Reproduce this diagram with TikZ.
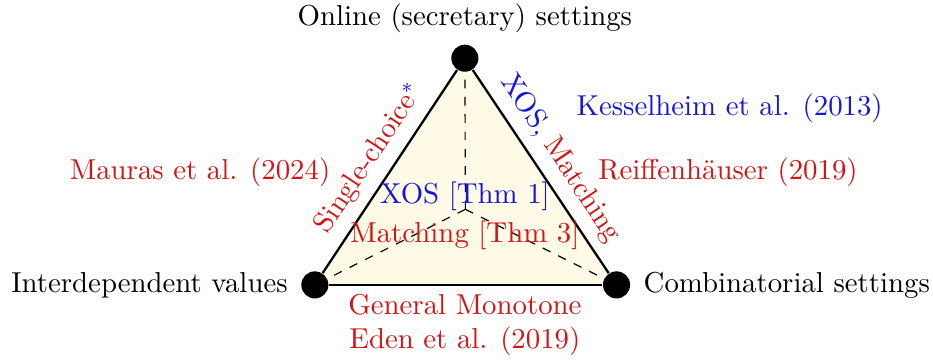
\documentclass[tikz,border=0pt]{standalone}
\usepackage{tikz}
\usetikzlibrary{positioning,backgrounds}
\usepackage{xcolor}
\definecolor{ptred}{RGB}{210,20,20}
\definecolor{ptblue}{RGB}{20,20,225}
\definecolor{ptfill}{RGB}{255,251,231}
\tikzstyle{vertex} = [circle,fill=black,inner sep=0pt,minimum size=9.4pt]
\tikzstyle{edge} = [thick,black]

\begin{document}
\begin{tikzpicture}
\useasboundingbox (0,0) rectangle (11.38,4.39);
% Corners
\node[vertex] (top) at (5.67,3.68) {};
\node[vertex] (left) at (3.84,0.915) {};
\node[vertex] (right) at (7.52,0.915) {};
\coordinate (ctr) at (barycentric cs:top=1,left=1,right=1);

% Corner labels
\node[above=0.5pt of top] (online) {Online (secretary) settings};
\node[left=1pt of left] (interdep) {Interdependent values};
\node[right=1pt of right] (combin) {Combinatorial settings};

% Triangle
\begin{scope}[on background layer]
\fill[ptfill] (top.center) -- (left.center) -- (right.center) -- cycle;
\draw[dashed] (ctr) -- (top.center);
\draw[dashed] (ctr) -- (left.center);
\draw[dashed] (ctr) -- (right.center);
\draw[edge] (left) -- node[sloped,above,ptred] {Single-choice\textcolor{ptblue}{$^*$}} (top);
\draw[edge] (top) -- node[sloped,above,ptred] {\textcolor{ptblue}{XOS,} Matching} (right);
\draw[edge] (left) -- (right);
\end{scope}

% Results
\node[ptblue] (xos) at (5.67,1.99) {XOS [Thm 1]};
\node[ptred] (match) at (5.67,1.52) {Matching [Thm 3]};
\node[ptred,align=center] (general) at (5.67,0.427) {General Monotone\\Eden et al. (2019)};
\node[ptred] (mauras) at (2.44,2.29) {Mauras et al. (2024)};
\node[ptblue] (kessel) at (8.90,3.07) {Kesselheim et al. (2013)};
\node[ptred] (reiff) at (8.88,2.29) {Reiffenhäuser (2019)};
\end{tikzpicture}
\end{document}
